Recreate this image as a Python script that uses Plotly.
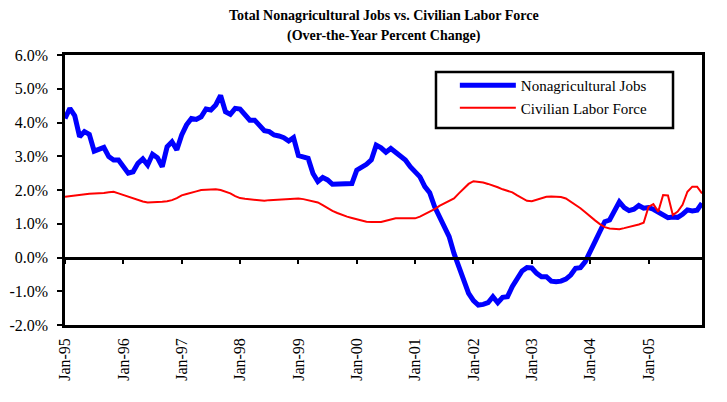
import plotly.graph_objects as go

# ---------------- data ----------------
month_names = ["Jan", "Feb", "Mar", "Apr", "May", "Jun",
               "Jul", "Aug", "Sep", "Oct", "Nov", "Dec"]
years = ["95", "96", "97", "98", "99", "00", "01", "02", "03", "04", "05"]
months = [f"{m}-{y}" for y in years for m in month_names]  # Jan-95 .. Dec-05
tick_labels = [f"Jan-{y}" for y in years]

y_tick_values = [-2, -1, 0, 1, 2, 3, 4, 5, 6]
y_tick_labels = ["-2.0%", "-1.0%", "0.0%", "1.0%", "2.0%", "3.0%", "4.0%", "5.0%", "6.0%"]

nonag_jobs = [
    4.12, 4.42, 4.20, 3.58, 3.73, 3.65, 3.15, 3.19, 3.26, 2.99, 2.89, 2.89,
    2.68, 2.50, 2.54, 2.79, 2.92, 2.74, 3.06, 2.96, 2.69, 3.28, 3.43, 3.19,
    3.63, 3.93, 4.12, 4.09, 4.17, 4.40, 4.37, 4.52, 4.80, 4.32, 4.24, 4.42,
    4.40, 4.22, 4.07, 4.07, 3.93, 3.76, 3.73, 3.63, 3.60, 3.55, 3.45, 3.55,
    3.02, 2.96, 2.94, 2.49, 2.25, 2.37, 2.30, 2.17, 2.17, 2.17, 2.18, 2.19,
    2.59, 2.66, 2.76, 2.89, 3.33, 3.25, 3.12, 3.23, 3.10, 2.99, 2.89, 2.69,
    2.55, 2.39, 2.10, 1.92, 1.51, 1.21, 0.86, 0.62, 0.12, -0.27, -0.67, -1.06,
    -1.28, -1.41, -1.39, -1.34, -1.16, -1.34, -1.18, -1.16, -0.86, -0.62, -0.40, -0.30,
    -0.31, -0.47, -0.57, -0.57, -0.70, -0.72, -0.70, -0.64, -0.52, -0.32, -0.30, -0.12,
    0.22, 0.47, 0.77, 1.06, 1.11, 1.41, 1.65, 1.48, 1.39, 1.43, 1.54, 1.46,
    1.48, 1.43, 1.36, 1.28, 1.18, 1.20, 1.19, 1.28, 1.41, 1.38, 1.40, 1.61,
]

labor_force = [
    1.80, 1.82, 1.85, 1.87, 1.88, 1.89, 1.90, 1.90, 1.91, 1.93, 1.95, 1.90,
    1.85, 1.80, 1.75, 1.70, 1.66, 1.63, 1.63, 1.63, 1.65, 1.67, 1.70, 1.76,
    1.84, 1.88, 1.93, 1.96, 2.00, 2.01, 2.02, 2.02, 2.00, 1.95, 1.90, 1.82,
    1.76, 1.74, 1.72, 1.71, 1.69, 1.68, 1.70, 1.71, 1.72, 1.72, 1.72, 1.73,
    1.75, 1.73, 1.70, 1.67, 1.63, 1.55, 1.46, 1.38, 1.32, 1.26, 1.21, 1.17,
    1.13, 1.09, 1.06, 1.05, 1.04, 1.05, 1.09, 1.13, 1.16, 1.16, 1.16, 1.16,
    1.16, 1.21, 1.28, 1.36, 1.43, 1.53, 1.61, 1.68, 1.75, 1.90, 2.05, 2.18,
    2.26, 2.25, 2.22, 2.18, 2.14, 2.08, 2.02, 1.98, 1.93, 1.84, 1.75, 1.68,
    1.67, 1.72, 1.76, 1.80, 1.81, 1.81, 1.79, 1.75, 1.66, 1.56, 1.46, 1.34,
    1.21, 1.10, 0.99, 0.90, 0.86, 0.84, 0.84, 0.87, 0.90, 0.94, 0.98, 1.03,
    1.50, 1.58, 1.36, 1.85, 1.84, 1.26, 1.36, 1.56, 1.95, 2.10, 2.10, 1.90,
]

# ---------------- figure ----------------
SERIF = "Liberation Serif, Times New Roman, serif"

fig = go.Figure()
fig.add_trace(go.Scatter(
    x=months, y=nonag_jobs, mode="lines", name="Nonagricultural Jobs",
    line=dict(color="#0000FF", width=5), xaxis="x", yaxis="y"))
fig.add_trace(go.Scatter(
    x=months, y=labor_force, mode="lines", name="Civilian Labor Force",
    line=dict(color="#FF0000", width=2), xaxis="x2", yaxis="y"))

xrange = [0, len(months) - 1]

fig.update_layout(
    width=727, height=402,
    # page body has an 8px default margin, compensate so the plot sits where the reference has it
    margin=dict(l=57, r=33, t=47, b=85, autoexpand=False),
    paper_bgcolor="white", plot_bgcolor="white",
    font=dict(family=SERIF, size=16, color="black"),
    showlegend=True,
    legend=dict(
        x=0.612, y=0.948, xanchor="left", yanchor="top",
        bgcolor="rgba(0,0,0,0)", borderwidth=0,
        font=dict(family=SERIF, size=15, color="black"),
        itemwidth=56, tracegroupgap=5,
    ),
    shapes=[
        dict(type="rect", xref="paper", yref="paper",
             x0=0.5824, x1=0.9545, y0=0.7296, y1=0.937,
             line=dict(color="black", width=2.5), fillcolor="white", layer="below"),
    ],
    xaxis=dict(
        type="category", categoryorder="array", categoryarray=months,
        range=xrange, tickmode="array", tickvals=tick_labels, ticktext=tick_labels,
        tickangle=-90, ticks="", ticklabelstandoff=4,
        showline=True, linecolor="black", linewidth=2.5,
        mirror=True, showgrid=False, zeroline=False, automargin=False,
        tickfont=dict(family=SERIF, size=16, color="black"),
    ),
    xaxis2=dict(
        type="category", categoryorder="array", categoryarray=months,
        range=xrange, overlaying="x", anchor="free", position=0.25,
        tickmode="array", tickvals=tick_labels, showticklabels=False,
        ticks="outside", ticklen=5, tickwidth=2, tickcolor="black",
        showline=True, linecolor="black", linewidth=2.5,
        showgrid=False, zeroline=False,
    ),
    yaxis=dict(
        range=[-2, 6], tickmode="array", tickvals=y_tick_values, ticktext=y_tick_labels,
        ticks="outside", ticklen=5, tickwidth=2, tickcolor="black",
        ticklabelstandoff=6,
        showline=True, linecolor="black", linewidth=2.5, mirror=True,
        showgrid=False, zeroline=False, automargin=False,
        tickfont=dict(family=SERIF, size=16, color="black"),
    ),
    annotations=[
        dict(text="<b>Total Nonagricultural Jobs vs. Civilian Labor Force</b>",
             xref="paper", yref="paper", x=0.5, y=1.148,
             xanchor="center", yanchor="middle", showarrow=False,
             font=dict(family=SERIF, size=14, color="black")),
        dict(text="<b>(Over-the-Year Percent Change)</b>",
             xref="paper", yref="paper", x=0.5, y=1.069,
             xanchor="center", yanchor="middle", showarrow=False,
             font=dict(family=SERIF, size=14, color="black")),
    ],
)

fig.write_html("out.html")
